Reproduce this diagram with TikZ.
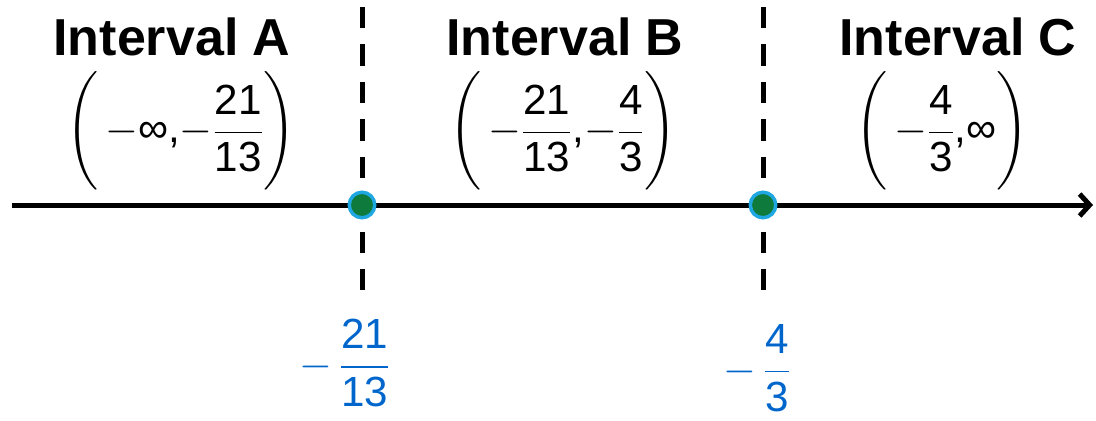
\RequirePackage{fix-cm}
\documentclass[tikz,border=0pt]{standalone}
\usepackage{amsmath}
\usepackage{graphicx}
\usepackage{fontspec}
\setmainfont{Liberation Sans}
\usetikzlibrary{arrows.meta}
\definecolor{labelblue}{HTML}{0066CC}
\definecolor{dotgreen}{HTML}{0E7A3C}
\definecolor{dotcyan}{HTML}{1EA7E0}
\newcommand{\mns}{\mathord{-}}
\newcommand{\dg}[1]{\text{#1}}
\newcommand{\fr}[2]{\dfrac{\dg{#1}}{\dg{#2}}}
\newcommand{\lpar}{\mathopen{\scalebox{1}[1.13]{$\biggl($}}}
\newcommand{\rpar}{\mathclose{\scalebox{1}[1.13]{$\biggr)$}}}

\begin{document}
\begin{tikzpicture}[x=0.02cm,y=-0.02cm]
\tikzset{
  titletext/.style={font=\fontsize{29.6}{34}\selectfont\bfseries,inner sep=0pt},
  intervaltext/.style={font=\fontsize{24}{28}\selectfont,inner sep=0pt},
  critlabel/.style={font=\fontsize{24}{28}\selectfont,text=labelblue,inner sep=0pt},
  axisline/.style={line width=0.1cm,-{Straight Barb[length=2mm,width=4.4mm]}},
  divider/.style={line width=0.1cm,dash pattern=on 0.43cm off 0.32cm},
  critdot/.style={circle,draw=dotcyan,fill=dotgreen,line width=0.07cm,minimum size=0.51cm,inner sep=0pt}
}
\useasboundingbox (0,0) rectangle (1096,420);
% number line
\coordinate (ax_start) at (12,205);
\coordinate (ax_end) at (1093,205);
\draw[axisline] (ax_start) -- (ax_end);
% dividers at the critical values
\coordinate (div_A_top) at (362,7);
\coordinate (div_A_bot) at (362,290);
\coordinate (div_B_top) at (763,7);
\coordinate (div_B_bot) at (763,290);
\draw[divider] (div_A_top) -- (div_A_bot);
\draw[divider] (div_B_top) -- (div_B_bot);
\node[critdot] (dot_A) at (362,205) {};
\node[critdot] (dot_B) at (763,205) {};
% interval titles
\node[titletext] (title_A) at (172,37) {Interval A};
\node[titletext] (title_B) at (565,37) {Interval B};
\node[titletext] (title_C) at (958,37) {Interval C};
% interval notation
\node[intervaltext] (int_A) at (181,131) {$\lpar\,\mns\dg{∞,}\mns\fr{21}{13}\rpar$};
\node[intervaltext] (int_B) at (563,131) {$\lpar\,\mns\fr{21}{13}\dg{,}\mns\fr{4}{3}\rpar$};
\node[intervaltext] (int_C) at (942,131) {$\lpar\,\mns\fr{4}{3}\dg{,∞}\rpar$};
% critical values
\node[critlabel] (val_A) at (345,363) {$\mns\,\fr{21}{13}$};
\node[critlabel] (val_B) at (757,368) {$\mns\,\fr{4}{3}$};
\end{tikzpicture}
\end{document}
